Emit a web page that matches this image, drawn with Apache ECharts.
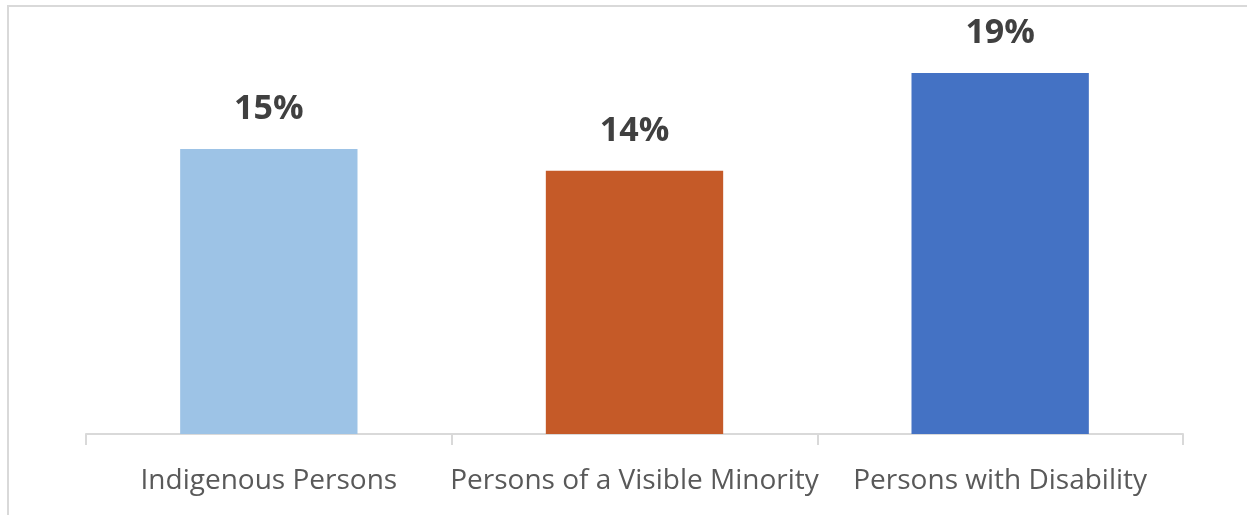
<!DOCTYPE html>
<html><head><meta charset="utf-8">
<script src="https://cdn.jsdelivr.net/npm/echarts@6/dist/echarts.min.js"></script>
<style>html,body{margin:0;padding:0;background:#fff}#c{width:1247px;height:515px}</style>
</head><body><div id="c"></div>
<script>
const categories = ['Indigenous Persons', 'Persons of a Visible Minority', 'Persons with Disability'];
const values = [15.0, 13.85, 19.0];
const barColors = ['#9DC3E6', '#C55A28', '#4472C4'];

const chart = echarts.init(document.getElementById('c'));
chart.setOption({
  animation: false,
  graphic: [{
    type: 'rect', shape: {x: 8, y: 6, width: 1280, height: 560},
    style: {fill: 'none', stroke: '#d9d9d9', lineWidth: 2}, silent: true
  }],
  grid: {left: 86, right: 64, top: 54, bottom: 81, containLabel: false},
  xAxis: {
    type: 'category', data: categories,
    axisLine: {lineStyle: {color: '#d9d9d9', width: 2}},
    axisTick: {show: true, length: 11, lineStyle: {color: '#d9d9d9', width: 2}},
    axisLabel: {color: '#595959', fontFamily: 'Open Sans', fontSize: 28, margin: 33, interval: 0}
  },
  yAxis: {type: 'value', min: 0, max: 20, show: false, splitLine: {show: false}},
  series: [{
    type: 'bar', barWidth: '48.5%',
    data: values.map((v, i) => ({value: v, itemStyle: {color: barColors[i]}})),
    label: {show: true, position: 'top', distance: 23, formatter: p => Math.round(p.value) + '%',
      color: '#404040', fontFamily: 'Open Sans', fontWeight: 'bold', fontSize: 34}
  }]
});
</script></body></html>
